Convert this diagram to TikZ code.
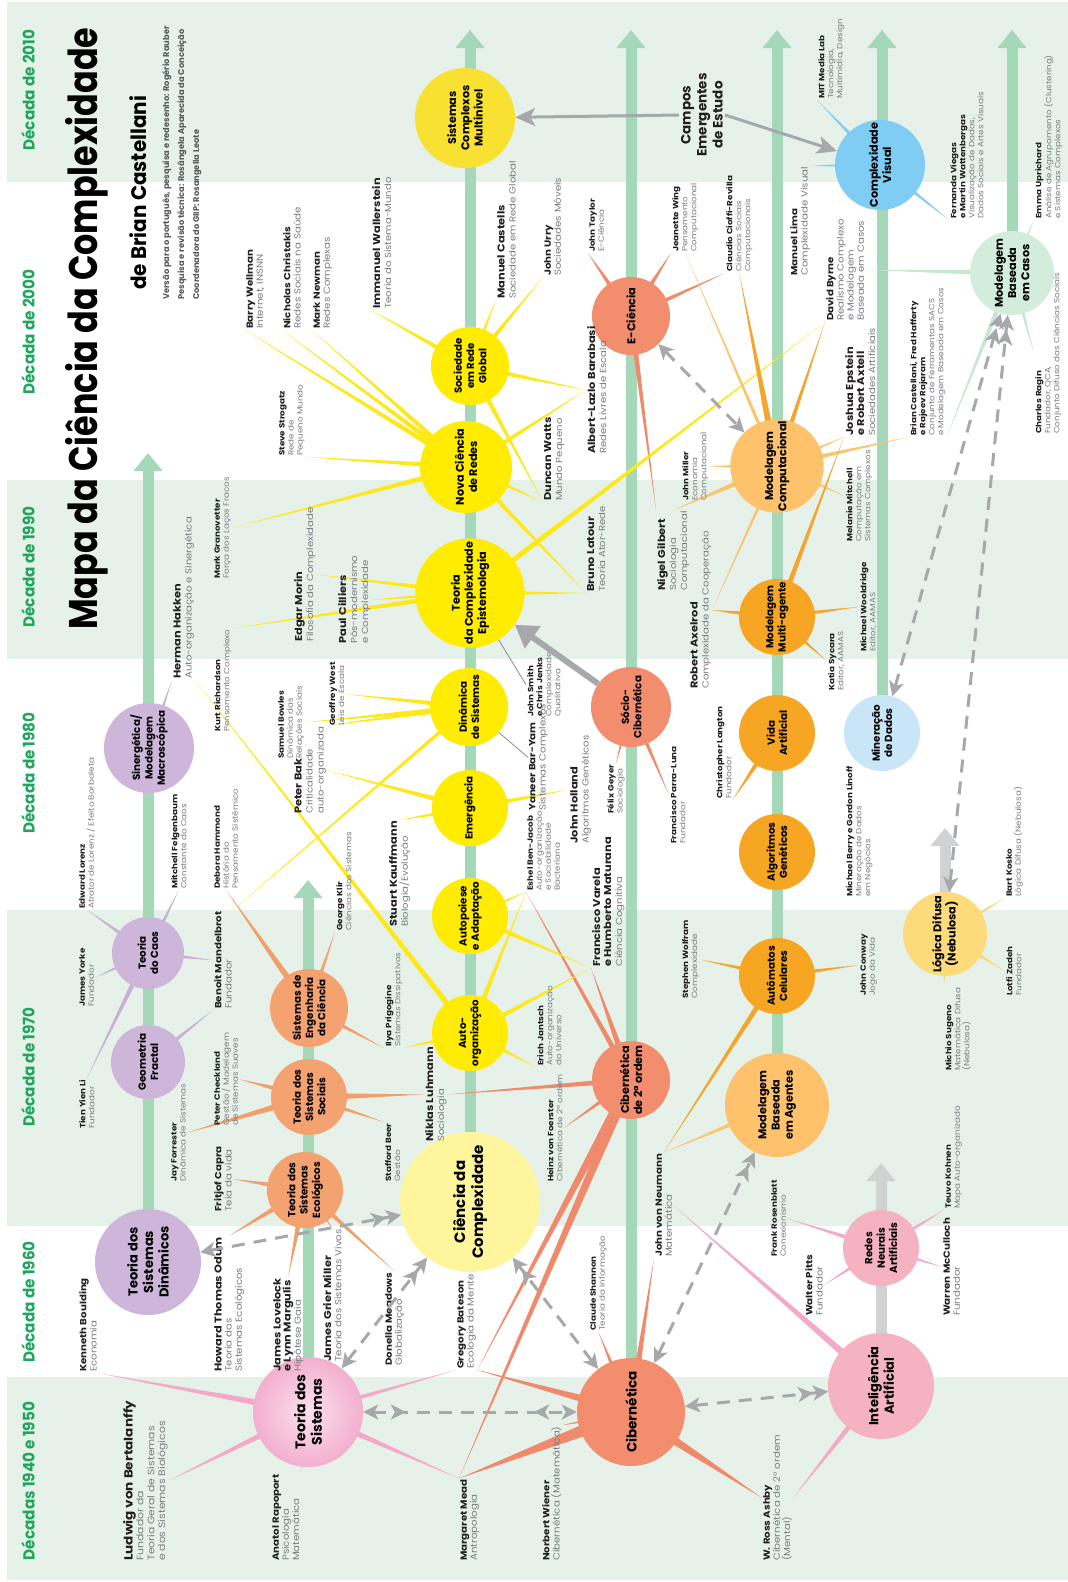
\documentclass[tikz,border=0pt]{standalone}
\usepackage{fontspec}
\usepackage{graphicx}
\setmainfont{Poppins}
\newfontfamily\lbf{Poppins}[FakeStretch=1.15]
\usetikzlibrary{arrows.meta,calc,decorations.markings}

\definecolor{band}{HTML}{E6F2E9}
\definecolor{colgreen}{HTML}{A5D8B9}
\definecolor{decgreen}{HTML}{1EA65C}
\definecolor{namec}{HTML}{231F20}
\definecolor{descc}{HTML}{7A7C80}
\definecolor{credc}{HTML}{58595B}
\definecolor{arrg}{HTML}{A6A8AB}
\definecolor{colgray}{HTML}{D1D2D4}
\definecolor{cPur}{HTML}{CDB6DA}
\definecolor{cPurL}{HTML}{C8B1D7}
\definecolor{cPinkA}{HTML}{FBE0EE}
\definecolor{cPinkB}{HTML}{F3AFCF}
\definecolor{cPinkL}{HTML}{F4A9C8}
\definecolor{cRose}{HTML}{F5B3C1}
\definecolor{cSal}{HTML}{F28D6E}
\definecolor{cSalL}{HTML}{F08A6C}
\definecolor{cOrS}{HTML}{F5A271}
\definecolor{cOrSL}{HTML}{F39F6B}
\definecolor{cYel}{HTML}{FFEC00}
\definecolor{cYelL}{HTML}{FFE81A}
\definecolor{cYelLt}{HTML}{FFF59C}
\definecolor{cYelM}{HTML}{F9E132}
\definecolor{cOrg}{HTML}{F6A623}
\definecolor{cOrgL}{HTML}{F4A62C}
\definecolor{cLOr}{HTML}{FDC26B}
\definecolor{cLOrL}{HTML}{FBC56F}
\definecolor{cBlue}{HTML}{7FCDF3}
\definecolor{cBlueL}{HTML}{86CFF2}
\definecolor{cLBlue}{HTML}{C8E6F6}
\definecolor{cLBlueL}{HTML}{A9DAF3}
\definecolor{cMint}{HTML}{D3EDDC}
\definecolor{cMintL}{HTML}{C6E7D0}
\definecolor{cLD}{HTML}{FDDB7B}
\definecolor{cLDL}{HTML}{FAD66F}
\definecolor{thinG}{HTML}{8C8C8C}

\newcommand{\fS}{\lbf\fontsize{7.6}{9}\selectfont}
\newcommand{\fM}{\lbf\fontsize{8.9}{10.2}\selectfont}
\newcommand{\fB}{\lbf\fontsize{8.8}{11}\selectfont}
\newcommand{\nm}[1]{{\bfseries\color{namec}#1}}
\newcommand{\nmb}[1]{{\bfseries\fontsize{9.9}{11}\selectfont\color{namec}#1}}
\newcommand{\fCs}{\bfseries\fontsize{10.3}{12.3}\selectfont}
\newcommand{\fCm}{\bfseries\fontsize{11.2}{13.2}\selectfont}
\newcommand{\fCb}{\bfseries\fontsize{13}{15.5}\selectfont}

\pgfdeclarelayer{bands}
\pgfdeclarelayer{spokes}
\pgfsetlayers{bands,spokes,main}

\newcommand{\spk}[4]{\fill[#1] (#2) -- ($(#3.center)!#4pt!90:(#2)$) -- ($(#3.center)!#4pt!-90:(#2)$) -- cycle;}

\tikzset{
 lbl/.style={rotate=90, anchor=north west, align=left, inner sep=1pt, text=descc},
 lbS/.style={lbl, font=\fS},
 lbM/.style={lbl, font=\fM},
 lbB/.style={lbl, font=\fB},
 circ/.style={circle, inner sep=0pt, align=center, rotate=90, text=black, font=\fCs},
 dec/.style={rotate=90, text=decgreen, font=\bfseries\fontsize{16}{18}\selectfont, inner sep=0pt},
 colg/.style={draw=colgreen, line width=11pt, -{Triangle[length=18pt,width=28pt]}},
 colgr/.style={draw=colgray, line width=11pt, -{Triangle[length=18pt,width=28pt]}},
 dsh/.style={draw=arrg, line width=3pt, dash pattern=on 13pt off 9pt},
}

\begin{document}
\begin{tikzpicture}[x=1pt,y=-1pt,>={Stealth[length=15pt,width=15pt,inset=4pt]}]
\useasboundingbox (0,0) rectangle (1068,1582);

\begin{pgfonlayer}{bands}
\fill[white] (0,0) rectangle (1068,1582);
\fill[band] (7,2) rectangle (1068,182);
\fill[band] (7,480) rectangle (1068,659);
\fill[band] (7,910) rectangle (1068,1226);
\fill[band] (7,1377) rectangle (1068,1580);
\end{pgfonlayer}

% ---------- decades and title
\node[dec] (D2010) at (28,90) {\scalebox{0.95}[1]{Década de 2010}};
\node[dec] (D2000) at (28,332) {\scalebox{0.95}[1]{Década de 2000}};
\node[dec] (D1990) at (28,567) {\scalebox{0.95}[1]{Década de 1990}};
\node[dec] (D1980) at (28,773) {\scalebox{0.95}[1]{Década de 1980}};
\node[dec] (D1970) at (28,1067) {\scalebox{0.95}[1]{Década de 1970}};
\node[dec] (D1960) at (28,1302) {\scalebox{0.95}[1]{Década de 1960}};
\node[dec] (D1940) at (28,1481) {\scalebox{0.95}[1]{Décadas 1940 e 1950}};

\node[rotate=90, anchor=base west, inner sep=0pt, font=\bfseries\fontsize{40}{40}\selectfont] (Ttl) at (97,630) {\scalebox{0.835}[1]{Mapa da Ciência da Complexidade}};
\node[rotate=90, anchor=base west, inner sep=0pt, font=\bfseries\fontsize{21}{21}\selectfont] (Tsub) at (146,290) {\scalebox{0.95}[1]{de Brian Castellani}};
\node[rotate=90, anchor=north west, align=left, inner sep=0pt, text=credc, font=\bfseries\fontsize{8.3}{15}\selectfont] (Tcred) at (162,300) {Versão para o português, pesquisa e redesenho: Rogério Rauber\\Pesquisa e revisão técnica: Rosângela Aparecida da Conceição\\Coordenadora do GIIP: Rosangella Leote};
\node[rotate=90, align=center, inner sep=2pt, text=namec, font=\bfseries\fontsize{13.5}{16}\selectfont] (Lcamp) at (702,115) {Campos\\Emergentes\\de Estudo};

% ---------- circles
\node[circ, fill=cPur, minimum size=106pt, font=\fCb] (Ctsd) at (148,1262) {Teoria dos\\Sistemas\\Dinâmicos};
\node[circ, fill=cPur, minimum size=74pt] (Cgf) at (148,1062) {Geometria\\Fractal};
\node[circ, fill=cPur, minimum size=72pt] (Ctc) at (148,953) {Teoria\\do Caos};
\node[circ, fill=cPur, minimum size=90pt] (Csmm) at (149,748) {Sinergética/\\Modelagem\\Macroscópica};
\node[circ, inner color=cPinkA, outer color=cPinkB, minimum size=110pt, font=\bfseries\fontsize{14}{16.5}\selectfont] (Ctds) at (308,1412) {Teoria dos\\Sistemas};
\node[circ, fill=cOrS, minimum size=76pt] (Ctse) at (305,1190) {Teoria dos\\Sistemas\\Ecológicos};
\node[circ, fill=cOrS, minimum size=76pt] (Ctss) at (309,1097) {Teoria dos\\Sistemas\\Sociais};
\node[circ, fill=cOrS, minimum size=78pt] (Csec) at (309,1008) {Sistemas de\\Engenharia\\da Ciência};
\node[circ, fill=cYelLt, minimum size=140pt, font=\bfseries\fontsize{15}{18}\selectfont] (Ccdc) at (470,1202) {Ciência da\\Complexidade};
\node[circ, fill=cYel, minimum size=76pt] (Cao) at (470,1033) {Auto-\\organização};
\node[circ, fill=cYel, minimum size=76pt] (Caa) at (470,916) {Autopoiese\\e Adaptação};
\node[circ, fill=cYel, minimum size=76pt] (Cemg) at (470,808) {Emergência};
\node[circ, fill=cYel, minimum size=78pt] (Cds) at (469,707) {Dinâmica\\de Sistemas};
\node[circ, fill=cYel, minimum size=100pt, font=\fCm] (Ctce) at (470,593) {Teoria\\da Complexidade\\Epistemologia};
\node[circ, fill=cYel, minimum size=92pt, font=\fCm] (Cncr) at (466,467) {Nova Ciência\\de Redes};
\node[circ, fill=cYel, minimum size=78pt] (Csrg) at (470,366) {Sociedade\\em Rede\\Global};
\node[circ, fill=cYelM, minimum size=100pt, font=\fCm] (Cscm) at (465,118) {Sistemas\\Complexos\\Multinivel};
\node[circ, fill=cSal, minimum size=108pt, font=\bfseries\fontsize{13.5}{16}\selectfont] (Ccib) at (631,1412) {Cibernética};
\node[circ, fill=cSal, minimum size=78pt, font=\fCm] (Ccib2) at (631,1080) {Cibernética\\de 2ª ordem};
\node[circ, fill=cSal, minimum size=80pt] (Csoc) at (631,707) {Sócio-\\Cibernética};
\node[circ, fill=cSal, minimum size=78pt, font=\fCm] (Cec) at (631,316) {E-Ciência};
\node[circ, fill=cLOr, minimum size=104pt, font=\fCm] (Cmba) at (777,1105) {Modelagem\\Baseada\\em Agentes};
\node[circ, fill=cOrg, minimum size=76pt] (Cacel) at (777,976) {Autômatos\\Celulares};
\node[circ, fill=cOrg, minimum size=76pt] (Cag) at (777,852) {Algoritmos\\Genéticos};
\node[circ, fill=cOrg, minimum size=76pt] (Cva) at (777,733) {Vida\\Artificial};
\node[circ, fill=cOrg, minimum size=76pt] (Cmma) at (777,617) {Modelagem\\Multi-agente};
\node[circ, fill=cLOr, minimum size=92pt, font=\fCm] (Cmcp) at (777,466) {Modelagem\\Computacional};
\node[circ, fill=cBlue, minimum size=90pt, font=\fCm] (Ccv) at (880,165) {Complexidade\\Visual};
\node[circ, fill=cLBlue, minimum size=76pt] (Cmd) at (882,733) {Mineração\\de Dados};
\node[circ, fill=cMint, minimum size=84pt, font=\fCm] (Cmbc) at (1012,273) {Modelagem\\Baseada\\em Casos};
\node[circ, fill=cLD, minimum size=84pt, font=\fCm] (Cld) at (945,934) {Lógica Difusa\\(Nebulosa)};
\node[circ, fill=cRose, minimum size=106pt, font=\fCb] (Cia) at (881,1386) {Inteligência\\Artificial};
\node[circ, fill=cRose, minimum size=76pt] (Crna) at (881,1248) {Redes\\Neurais\\Artificiais};

% ---------- labels
\node[lbM] (Lkb) at (78,1373) {\nm{Kenneth Boulding}\\Economia};
\node[lbl, font=\lbf\fontsize{9.4}{10.8}\selectfont] (Llvb) at (122,1562) {{\bfseries\fontsize{11.8}{13}\selectfont\color{namec}Ludwig von Bertalanffy}\\Fundador da\\Teoria Geral de Sistemas\\e dos Sistemas Biológicos};
\node[lbM] (Lar) at (271,1562) {\nm{Anatol Rapoport}\\Psicologia\\Matemática};
\node[lbM] (Lhto) at (213,1373) {\nmb{Howard Thomas Odum}\\Teoria dos\\Sistemas Ecológicos};
\node[lbM] (Ljl) at (272,1373) {\nmb{James Lovelock}\\\nmb{e Lynn Margulis}\\Hipótese Gaia};
\node[lbM] (Ljgm) at (322,1363) {\nmb{James Grier Miller}\\Teoria dos Sistemas Vivos};
\node[lbM] (Ldm) at (384,1367) {\nm{Donella Meadows}\\Globalização};
\node[lbM] (Lgb) at (456,1370) {\nm{Gregory Bateson}\\Ecologia da Mente};
\node[lbM] (Lmm) at (459,1562) {\nm{Margaret Mead}\\Antropologia};
\node[lbM] (Lnw) at (541,1562) {\nm{Norbert Wiener}\\Cibernética (Matemática)};
\node[lbS] (Lcs) at (589,1332) {\nm{Claude Shannon}\\Teoria da Informação};
\node[lbM] (Ljvn) at (654,1258) {\nm{John von Neumann}\\Matemática};
\node[lbM] (Lwra) at (762,1562) {\nm{W. Ross Ashby}\\Cibernética de 2º ordem\\(Mental)};
\node[lbS] (Lfr) at (770,1258) {\nm{Frank Rosenblatt}\\Conexionismo};
\node[lbM] (Lwp) at (804,1317) {\nm{Walter Pitts}\\Fundador};
\node[lbM] (Lwmc) at (942,1317) {\nm{Warren McCulloch}\\Fundador};
\node[lbS] (Ltk) at (944,1210) {\nm{Teuvo Kohnen}\\Mapa Auto-organizado};

\node[lbS] (Lel) at (78,910) {\nm{Edward Lorenz}\\Atrator de Lorenz / Efeito Borboleta};
\node[lbS] (Lmf) at (170,890) {\nm{Mitchell Felgenbaum}\\Constante do Caos};
\node[lbS] (Ljy) at (78,1008) {\nm{James Yorke}\\Fundador};
\node[lbM] (Lbm) at (213,1010) {\nm{Benoit Mandelbrot}\\Fundador};
\node[lbS] (Ltyl) at (78,1130) {\nm{Tien Yien Li}\\Fundador};
\node[lbS] (Ljf) at (170,1183) {\nm{Jay Forrester}\\Dinâmica de Sistemas};
\node[lbS] (Lpc) at (213,1127) {\nm{Peter Checkland}\\Gestão / Modelagem\\de Sistemas Suaves};
\node[lbS] (Ldh) at (213,890) {\nm{Debora Hammond}\\História do\\Pensamento Sistêmico};
\node[lbS] (Lgk) at (335,932) {\nm{George Klir}\\Ciências dos Sistemas};
\node[lbM] (Lfc) at (213,1213) {\nm{Fritjof Capra}\\Teia da vida};

\node[lbB] (Lsk) at (388,928) {\nmb{Stuart Kauffmann}\\Biologia/Evolução};
\node[lbS] (Lip) at (384,1048) {\nm{Ilya Prigogine}\\Sistemas Dissipativos};
\node[lbB] (Lnl) at (424,1143) {\nmb{Niklas Luhmann}\\Sociologia};
\node[lbS] (Lsb) at (384,1183) {\nm{Stafford Beer}\\Gestão};
\node[lbS] (Lej) at (536,1067) {\nm{Erich Jantsch}\\Auto-organização\\do Universo};
\node[lbS] (Lhvf) at (546,1183) {\nm{Heinz von Foerster}\\Cibernética de 2ª ordem};
\node[lbS] (Lebj) at (526,892) {\nm{Eshel Ben-Jacob}\\Auto-organização\\e Sociabilidade\\Bacteriana};
\node[lbB] (Lfv) at (591,968) {\nmb{Francisco Varela}\\\nmb{e Humberto Maturana}\\Ciência Cognitiva};
\node[lbB] (Ljh) at (569,845) {\nmb{John Holland}\\Algoritmos Genéticos};
\node[lbS] (Lsw) at (681,1000) {\nm{Stephen Wolfram}\\Complexidade};
\node[lbS] (Lfpl) at (669,845) {\nm{Francisco Parra-Luna}\\Fundador};

\node[lbB] (Lhh) at (172,680) {\nmb{Herman Hakken}\\Auto-organização e Sinergética};
\node[lbS] (Lkr) at (213,733) {\nm{Kurt Richardson}\\Pensamento Complexo};
\node[lbS] (Lmg) at (213,580) {\nm{Mark Granovetter}\\Força dos Laços Fracos};
\node[lbB] (Lem) at (293,643) {\nmb{Edgar Morin}\\Filosofia da Complexidade};
\node[lbB] (Lpci) at (337,645) {\nmb{Paul Cilliers}\\Pós-modernismo\\e Complexidade};
\node[lbS] (Lsbw) at (277,760) {\nm{Samuel Bowles}\\Dinâmica das\\Relações Sociais};
\node[lbS] (Lgw) at (328,727) {\nm{Geoffrey West}\\Leis de Escala};
\node[lbB] (Lpb) at (293,815) {\nmb{Peter Bak}\\Criticalidade\\auto-organizada};
\node[lbS] (Lss) at (278,457) {\nm{Steve Strogatz}\\Rede de\\Pequeno Mundo};

\node[lbM] (Lbw) at (245,330) {\nm{Barry Wellman}\\Internet, INSNN};
\node[lbM] (Lnc) at (282,330) {\nm{Nicholas Christakis}\\Redes Sociais na Saúde};
\node[lbM] (Lmn) at (312,330) {\nm{Mark Newman}\\Redes Complexas};

\node[lbB] (Liw) at (371,310) {\nmb{Immanuel Wallerstein}\\Teoria do Sistema-Mundo};
\node[lbB] (Lmc) at (496,300) {\nmb{Manuel Castells}\\Sociedade em Rede Global};
\node[lbM] (Lju) at (543,277) {\nm{John Urry}\\Sociedades Móveis};
\node[lbS] (Ljt) at (588,253) {\nm{John Taylor}\\E-Ciência};
\node[lbS] (Ljw) at (671,253) {\nm{Jeanette Wing}\\Pensamento\\Computacional};

\node[lbS] (Lmit) at (817,100) {\nm{MIT Media Lab}\\Tecnologia,\\Multimídia, Design};
\node[lbS] (Lccr) at (725,273) {\nm{Claudio Cioffi-Revilla}\\Ciências Sociais\\Computacionais};
\node[lbM] (Lml) at (789,277) {\nm{Manuel Lima}\\Complexidade Visual};
\node[lbM] (Ldb) at (825,322) {\nm{David Byrne}\\Realismo Complexo\\e Modelagem\\Baseada em Casos};
\node[lbS] (Lfvw) at (949,220) {\nm{Fernanda Viegas}\\\nm{e Martin Wattenbergas}\\Visualização de Dados,\\Dados Sociais e Artes Visuais};
\node[lbS] (Leu) at (1034,220) {\nm{Emma Uprichard}\\Análise de Agrupamento (Clustering)\\e Sistemas Complexos};
\node[lbS] (Lbc) at (909,437) {\nm{Brian Castellani, Fred Hafferty}\\\nm{e Rajeev Rajaram}\\Conjunto de Ferramentas SACS\\e Modelagem Baseada em Casos};
\node[lbS] (Lcr) at (1034,435) {\nm{Charles Ragin}\\Fundador, QCA,\\Conjunto Difuso das Ciências Sociais};

\node[lbB] (Ldw) at (543,502) {\nmb{Duncan Watts}\\Mundo Pequeno};
\node[lbB] (Lalb) at (586,455) {\nmb{Albert-Lazlo Barabasi}\\Redes Livres de Escala};
\node[lbB] (Lbl) at (586,593) {\nmb{Bruno Latour}\\Teoria Ator-Rede};
\node[lbS] (Ljsm) at (526,718) {\nm{John Smith}\\\nm{e Chris Jenks}\\Complexidade\\Qualitativa};
\node[lbM] (Lybv) at (528,812) {\nm{Yaneer Bar-Yam}\\Sistemas Complexos};
\node[lbS] (Lfg) at (606,815) {\nm{Félix Geyer}\\Sociologia};
\node[lbS] (Ljmi) at (681,502) {\nm{John Miller}\\Economia\\Computacional};
\node[lbB] (Lng) at (656,592) {\nmb{Nigel Gilbert}\\Sociologia\\Computacional};
\node[lbB] (Lra) at (689,690) {\nmb{Robert Axelrod}\\Complexidade da Cooperação};

\node[lbS] (Lcl) at (715,800) {\nm{Christopher Langton}\\Fundador};
\node[lbS] (Lks) at (827,692) {\nm{Katia Sycara}\\Editor, AAMAS};
\node[lbS] (Lmw) at (859,653) {\nm{Michael Wooldridge}\\Editor, AAMAS};
\node[lbS] (Lmmi) at (845,543) {\nm{Melanie Mitchell}\\Computação em\\Sistemas Complexos};
\node[lbB] (Lje) at (844,437) {\nmb{Joshua Epstein}\\\nmb{e Robert Axtell}\\Sociedades Artificiais};

\node[lbS] (Ljc) at (859,997) {\nm{John Conway}\\Jogo da Vida};
\node[lbS] (Lmbg) at (845,898) {\nm{Michael Berry e Gordon Linoff}\\Mineração de Dados\\em Negócios};
\node[lbS] (Lbk) at (1005,898) {\nm{Bart Kosko}\\Lógica Difusa (Nebulosa)};
\node[lbS] (Llz) at (1005,997) {\nm{Lotfi Zadeh}\\Fundador};
\node[lbS] (Lmsu) at (944,1072) {\nm{Michio Sugeno}\\Matemática Difusa\\(Nebulosa)};

% ---------- columns
\coordinate (T1) at (148,453);
\coordinate (T2) at (308,880);
\coordinate (T3) at (470,30);
\coordinate (T4) at (631,30);
\coordinate (T5) at (777,30);
\coordinate (T6) at (882,30);
\coordinate (T7) at (1012,30);
\coordinate (T8) at (945,828);
\coordinate (T9) at (881,1163);
\begin{pgfonlayer}{bands}
\draw[colg] (Ctsd.center) -- (T1);
\draw[colg] (Ctds.center) -- (T2);
\draw[colg] (Ccdc.center) -- (T3);
\draw[colg] (Ccib.center) -- (T4);
\draw[colg] (Cmba.center) -- (T5);
\draw[colg] (Cmd.center) -- (T6);
\draw[colg] (Cmbc.center) -- (T7);
\draw[colgr] (Cld.center) -- (T8);
\draw[colgr] (Cia.center) -- (T9);
\end{pgfonlayer}

% ---------- spokes
\begin{pgfonlayer}{spokes}
\spk{cPinkL}{Lkb.south west}{Ctds}{4}
\spk{cPinkL}{Llvb.south}{Ctds}{4}
\spk{cPinkL}{Lar.south east}{Ctds}{3}
\spk{cPinkL}{Lgb.north west}{Ctds}{3}
\spk{cPinkL}{Lmm.north east}{Ctds}{4}
\spk{cSalL}{Lmm.north east}{Ccib}{8}
\spk{cSalL}{Lgb.south west}{Ccib}{5}
\spk{cSalL}{Lnw.south east}{Ccib}{4}
\spk{cSalL}{Lcs.west}{Ccib}{4}
\spk{cSalL}{Ljvn.north west}{Ccib}{4}
\spk{cSalL}{Lwra.north}{Ccib}{6}
\spk{cSalL}{Lmm.north east}{Ccib2}{5}
\spk{cSalL}{Lgb.south west}{Ccib2}{5}
\spk{cSalL}{Lhvf.south}{Ccib2}{3}
\spk{cSalL}{Lnl.south}{Ccib2}{3}
\spk{cSalL}{Lfv.north west}{Ccib2}{4}
\spk{cSalL}{Lebj.north west}{Ccib2}{3}
\spk{cSalL}{Lfg.east}{Csoc}{3}
\spk{cSalL}{Lfpl.north}{Csoc}{3}
\spk{cSalL}{Ljt.north west}{Cec}{4}
\spk{cSalL}{Ljw.north west}{Cec}{4}
\spk{cSalL}{Lccr.north west}{Cec}{3}
\spk{cSalL}{Lng.north east}{Cec}{3}
\spk{cPinkL}{Ljvn.south}{Cia}{4}
\spk{cPinkL}{Lwra.south}{Cia}{4}
\spk{cPinkL}{Lfr.south}{Crna}{3}
\spk{cPinkL}{Lwp.south}{Crna}{3}
\spk{cPinkL}{Lwmc.north}{Crna}{3}
\spk{cPinkL}{Ltk.north west}{Crna}{3}
\spk{cOrSL}{Lfc.south}{Ctse}{4}
\spk{cOrSL}{Lhto.east}{Ctse}{4}
\spk{cOrSL}{Ljl.east}{Ctse}{4}
\spk{cOrSL}{Ljgm.east}{Ctse}{4}
\spk{cOrSL}{Ldm.east}{Ctse}{3}
\spk{cOrSL}{Ljf.south}{Ctss}{4}
\spk{cOrSL}{Lpc.south}{Ctss}{4}
\spk{cOrSL}{Lnl.north}{Ctss}{4}
\spk{cOrSL}{Lsb.north east}{Ctss}{3}
\spk{cOrSL}{Ldh.west}{Csec}{4}
\spk{cOrSL}{Lgk.north west}{Csec}{3}
\spk{cOrSL}{Lip.north west}{Csec}{3}
\spk{cPurL}{Lel.west}{Ctc}{3}
\spk{cPurL}{Lmf.west}{Ctc}{3}
\spk{cPurL}{Ljy.south}{Ctc}{3}
\spk{cPurL}{Lbm.north}{Ctc}{3}
\spk{cPurL}{Ltyl.east}{Ctc}{3}
\spk{cPurL}{Lbm.north west}{Cgf}{3}
\spk{cPurL}{Lhh.north west}{Csmm}{3}
\spk{cYelL}{Lip.south west}{Cao}{3}
\spk{cYelL}{Lej.north west}{Cao}{3}
\spk{cYelL}{Lhh.south west}{Cao}{3}
\spk{cYelL}{Lebj.north west}{Cao}{3}
\spk{cYelL}{Lfv.north west}{Cao}{3}
\spk{cYelL}{Lebj.north west}{Caa}{3}
\spk{cYelL}{Lfv.north west}{Caa}{3}
\spk{cYelL}{Lsk.east}{Cemg}{3}
\spk{cYelL}{Ljh.north}{Cemg}{3}
\spk{cYelL}{Lpb.south}{Cemg}{3}
\spk{cYelL}{Lsbw.south}{Cds}{3}
\spk{cYelL}{Lgw.south}{Cds}{3}
\spk{cYelL}{Lpb.south east}{Cds}{3}
\spk{cYelL}{Lbm.south east}{Cds}{2}
\spk{cYelL}{Lkr.south east}{Ctce}{3}
\spk{cYelL}{Lem.south}{Ctce}{3}
\spk{cYelL}{Lpci.south}{Ctce}{3}
\spk{cYelL}{Lbl.north west}{Ctce}{3}
\spk{cYelL}{Ldb.north west}{Ctce}{3}
\spk{cYelL}{Lbw.north west}{Cncr}{3}
\spk{cYelL}{Lnc.north west}{Cncr}{3}
\spk{cYelL}{Lmn.north west}{Cncr}{3}
\spk{cYelL}{Lss.south west}{Cncr}{3}
\spk{cYelL}{Lmg.south}{Cncr}{3}
\spk{cYelL}{Ldw.north west}{Cncr}{3}
\spk{cYelL}{Lalb.north}{Cncr}{3}
\spk{cYelL}{Lbl.north west}{Cncr}{3}
\spk{cYelL}{Liw.north west}{Csrg}{3}
\spk{cYelL}{Lmc.north west}{Csrg}{3}
\spk{cYelL}{Lju.north west}{Csrg}{3}
\spk{cYelL}{Ldw.north west}{Csrg}{3}
\spk{cYelL}{Lalb.north}{Csrg}{3}
\spk{cLOrL}{Ljw.west}{Cmcp}{2}
\spk{cOrgL}{Lccr.west}{Cmcp}{4}
\spk{cOrgL}{Ldb.north west}{Cmcp}{3}
\spk{cLOrL}{Ljmi.south}{Cmcp}{4}
\spk{cLOrL}{Lng.east}{Cmcp}{4}
\spk{cLOrL}{Lmmi.north}{Cmcp}{3}
\spk{cLOrL}{Lje.north west}{Cmcp}{3}
\spk{cLOrL}{Lbc.north west}{Cmcp}{3}
\spk{cLOrL}{Lra.south}{Cmcp}{2}
\spk{cOrgL}{Lra.south}{Cmma}{4}
\spk{cOrgL}{Lks.north}{Cmma}{3}
\spk{cOrgL}{Lmw.north}{Cmma}{3}
\spk{cOrgL}{Lje.north west}{Cmma}{3}
\spk{cOrgL}{Lcl.south west}{Cva}{4}
\spk{cOrgL}{Lsw.south}{Cacel}{3}
\spk{cOrgL}{Ljc.north}{Cacel}{3}
\spk{cOrgL}{Ljvn.east}{Cacel}{3}
\spk{cLOrL}{Ljvn.east}{Cmba}{3}
\spk{cLBlueL}{Lmbg.south east}{Cmd}{3}
\spk{cBlueL}{Lmit.north west}{Ccv}{3}
\spk{cBlueL}{Lml.south east}{Ccv}{3}
\spk{cBlueL}{Lfvw.north west}{Ccv}{3}
\spk{cMintL}{Ldb.south}{Cmbc}{3}
\spk{cMintL}{Leu.north west}{Cmbc}{3}
\spk{cMintL}{Lbc.south west}{Cmbc}{3}
\spk{cMintL}{Lcr.north}{Cmbc}{3}
\spk{cLDL}{Lbk.north west}{Cld}{3}
\spk{cLDL}{Llz.north}{Cld}{3}
\spk{cLDL}{Lmsu.north east}{Cld}{3}
\draw[thinG, line width=0.8pt] (Cds) -- (Lybv.north);
\draw[thinG, line width=0.8pt] (Ctce) -- (Ljsm.north);
\end{pgfonlayer}

% ---------- grey arrows
\draw[dsh, <->, postaction={decorate, decoration={markings, mark=at position 0.2 with {\arrow[arrg]{>}}, mark=at position 0.8 with {\arrowreversed[arrg]{>}}}}] (Ctds) -- (Ccib);
\draw[dsh, <->>] (Ccib) -- (Cia);
\draw[dsh, <->>] (Ctds) -- (Ccdc);
\draw[dsh, <->>] (Ctsd) -- (Ccdc);
\draw[dsh, <->>] (Ccib) -- (Ccdc);
\draw[dsh, <->>] (Ccib) -- (Cmba);
\draw[dsh, <->] (Cec) -- (Cmcp);
\draw[dsh, <->>] (Cmd) -- (Cmbc);
\draw[dsh, <->>] (Cld) -- (Cmbc);
\draw[arrg, line width=6pt, -{Triangle[length=22pt,width=26pt]}] (Csoc) -- (Ctce);
\draw[arrg, line width=3pt, -{Stealth[length=20pt,width=18pt,inset=5pt]}] (Lcamp.north) -- (Cscm);
\draw[arrg, line width=3pt, -{Stealth[length=20pt,width=18pt,inset=5pt]}] (Lcamp.south) -- (Ccv);
\end{tikzpicture}
\end{document}
